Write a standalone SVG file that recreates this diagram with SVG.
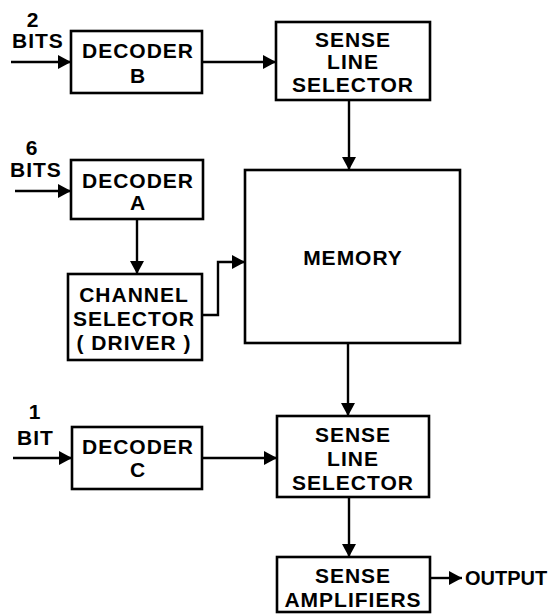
<svg xmlns="http://www.w3.org/2000/svg" width="553" height="614" viewBox="0 0 553 614">
<style>
.box{fill:#fff;stroke:#000;stroke-width:2.6}
.ln{fill:none;stroke:#000;stroke-width:2.4;marker-end:url(#ah)}
text{font-family:"Liberation Sans",Arial,sans-serif;font-weight:bold;font-size:21px;letter-spacing:1px;fill:#000}
.c{text-anchor:middle}
.out{font-size:20px;letter-spacing:0}
</style>
<defs>
<marker id="ah" markerUnits="userSpaceOnUse" markerWidth="14" markerHeight="14" refX="13" refY="7" orient="auto">
<path d="M0,0 L13,7 L0,14 z" fill="#000"/>
</marker>
</defs>
<rect width="553" height="614" fill="#fff"/>
<g id="connectors">
<path class="ln" d="M11,62 H71"/>
<path class="ln" d="M202,62 H276"/>
<path class="ln" d="M15,191 H71"/>
<path class="ln" d="M137,219 V274"/>
<path class="ln" d="M202,315 H218 V262 H245"/>
<path class="ln" d="M349,100 V170"/>
<path class="ln" d="M13,458 H72"/>
<path class="ln" d="M202,458 H277"/>
<path class="ln" d="M348,343 V416"/>
<path class="ln" d="M349,497 V557"/>
<path class="ln" d="M430,578 H462"/>
</g>
<g id="label-2bits">
<text class="c" x="33" y="27">2</text>
<text x="12" y="48">BITS</text>
</g>
<g id="label-6bits">
<text class="c" x="32" y="155">6</text>
<text x="10" y="177">BITS</text>
</g>
<g id="label-1bit">
<text class="c" x="35" y="419">1</text>
<text x="17" y="445">BIT</text>
</g>
<g id="decoder-b">
<rect class="box" x="71" y="31" width="131" height="62"/>
<text class="c" x="138" y="58">DECODER</text>
<text class="c" x="138" y="83">B</text>
</g>
<g id="sense-line-selector-top">
<rect class="box" x="276" y="22" width="154" height="78"/>
<text class="c" x="353" y="47">SENSE</text>
<text class="c" x="353" y="69">LINE</text>
<text class="c" x="353" y="92">SELECTOR</text>
</g>
<g id="decoder-a">
<rect class="box" x="71" y="160" width="132" height="59"/>
<text class="c" x="138" y="188">DECODER</text>
<text class="c" x="138" y="210">A</text>
</g>
<g id="channel-selector">
<rect class="box" x="68" y="274" width="134" height="86"/>
<text class="c" x="134" y="302">CHANNEL</text>
<text class="c" x="134" y="326">SELECTOR</text>
<text class="c" x="134" y="350">( DRIVER )</text>
</g>
<g id="memory">
<rect class="box" x="245" y="170" width="215" height="173"/>
<text class="c" x="353" y="265">MEMORY</text>
</g>
<g id="decoder-c">
<rect class="box" x="72" y="427" width="130" height="62"/>
<text class="c" x="138" y="454">DECODER</text>
<text class="c" x="138" y="477">C</text>
</g>
<g id="sense-line-selector-bottom">
<rect class="box" x="277" y="416" width="152" height="81"/>
<text class="c" x="353" y="442">SENSE</text>
<text class="c" x="353" y="466">LINE</text>
<text class="c" x="353" y="490">SELECTOR</text>
</g>
<g id="sense-amplifiers">
<rect class="box" x="277" y="557" width="153" height="55"/>
<text class="c" x="353" y="583">SENSE</text>
<text class="c" x="353" y="607">AMPLIFIERS</text>
</g>
<g id="output">
<text class="out" x="465" y="585">OUTPUT</text>
</g>
</svg>
